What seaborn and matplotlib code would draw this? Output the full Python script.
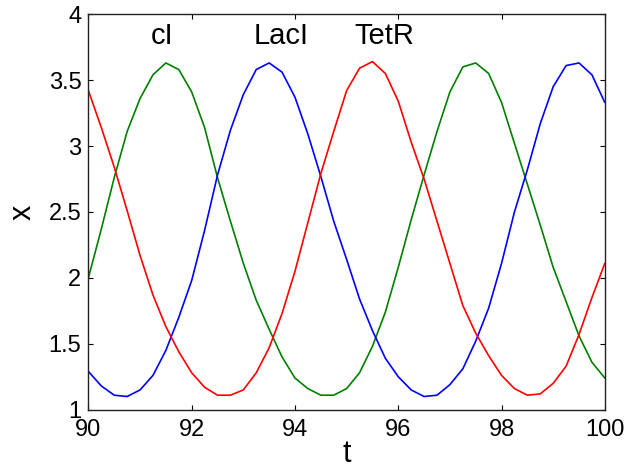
import pandas as pd
import matplotlib
matplotlib.use("Agg")
import matplotlib.pyplot as plt
import seaborn as sns

# time grid and the three protein levels
t = [90.00, 90.25, 90.50, 90.75, 91.00, 91.25, 91.50, 91.75, 92.00, 92.25,
     92.50, 92.75, 93.00, 93.25, 93.50, 93.75, 94.00, 94.25, 94.50, 94.75,
     95.00, 95.25, 95.50, 95.75, 96.00, 96.25, 96.50, 96.75, 97.00, 97.25,
     97.50, 97.75, 98.00, 98.25, 98.50, 98.75, 99.00, 99.25, 99.50, 99.75,
     100.00]

cI = [2.00, 2.37, 2.76, 3.11, 3.36, 3.54, 3.63, 3.58, 3.41, 3.14,
      2.76, 2.43, 2.11, 1.83, 1.61, 1.40, 1.24, 1.16, 1.11, 1.11,
      1.16, 1.28, 1.48, 1.74, 2.08, 2.44, 2.78, 3.11, 3.41, 3.60,
      3.63, 3.55, 3.33, 3.02, 2.71, 2.40, 2.08, 1.82, 1.56, 1.36,
      1.24]

lacI = [1.29, 1.18, 1.11, 1.10, 1.15, 1.26, 1.45, 1.70, 1.98, 2.36,
        2.78, 3.12, 3.39, 3.58, 3.63, 3.56, 3.37, 3.09, 2.77, 2.43,
        2.14, 1.84, 1.60, 1.39, 1.25, 1.15, 1.10, 1.11, 1.19, 1.31,
        1.52, 1.77, 2.11, 2.50, 2.82, 3.17, 3.45, 3.61, 3.63, 3.54,
        3.33]

tetR = [3.42, 3.14, 2.84, 2.51, 2.17, 1.87, 1.63, 1.44, 1.28, 1.17,
        1.11, 1.11, 1.15, 1.28, 1.47, 1.73, 2.05, 2.42, 2.79, 3.11,
        3.42, 3.59, 3.64, 3.55, 3.34, 3.03, 2.75, 2.43, 2.11, 1.79,
        1.58, 1.41, 1.26, 1.16, 1.11, 1.12, 1.20, 1.33, 1.57, 1.85,
        2.11]

names = ["cI", "LacI", "TetR"]
label_t = [91.43, 93.73, 95.73]

df = pd.DataFrame({"t": t * 3,
                   "x": cI + lacI + tetR,
                   "protein": ["cI"] * len(t) + ["LacI"] * len(t) + ["TetR"] * len(t)})

sns.set_style("white")
plt.rcParams["font.family"] = ["Liberation Sans", "DejaVu Sans"]
plt.rcParams["text.color"] = "black"
plt.rcParams["axes.labelcolor"] = "black"

fig = plt.figure(figsize=(6.36, 4.72), dpi=100)
ax = fig.add_axes([0.139, 0.132, 0.812, 0.838])

sns.lineplot(data=df, x="t", y="x", hue="protein",
             palette={"cI": "#008000", "LacI": "#0000ff", "TetR": "#ff0000"},
             linewidth=1.2, legend=False, ax=ax)

for name, lt in zip(names, label_t):
    ax.text(lt, 3.77, name, ha="center", va="baseline", fontsize=21, color="black")

ax.set_xlim(90, 100)
ax.set_ylim(1, 4)
ax.set_xticks([90, 92, 94, 96, 98, 100])
ax.set_yticks([1, 1.5, 2, 2.5, 3, 3.5, 4])
ax.set_yticklabels(["1", "1.5", "2", "2.5", "3", "3.5", "4"])
ax.tick_params(direction="in", length=3.5, width=0.8, labelsize=17,
               top=True, right=True, bottom=True, left=True,
               colors="black", labelcolor="black")
ax.tick_params(axis="x", pad=7)
ax.tick_params(axis="y", pad=5)
for s in ax.spines.values():
    s.set_visible(True)
    s.set_color("#222222")
    s.set_linewidth(1.0)

ax.set_xlabel("t", fontsize=22, labelpad=-2, color="black")
ax.set_ylabel("x", fontsize=22, labelpad=8, color="black")

fig.savefig("out.png", dpi=100)
